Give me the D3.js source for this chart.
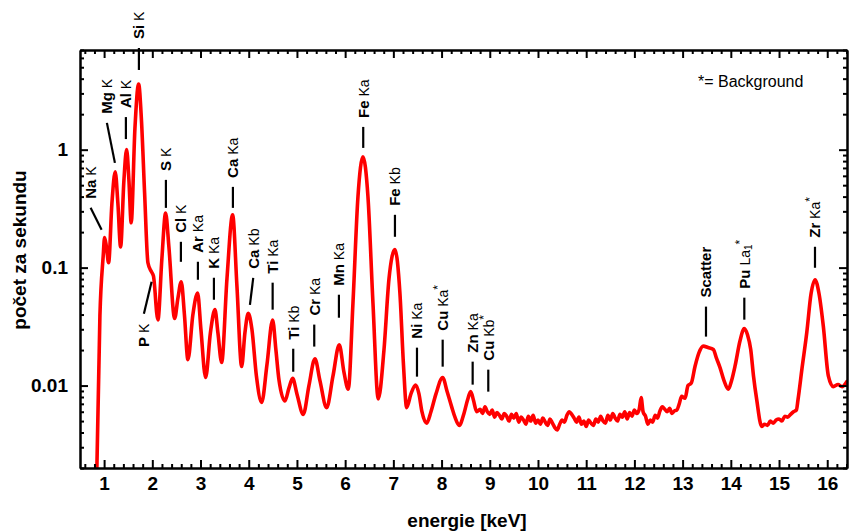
<!DOCTYPE html>
<html><head><meta charset="utf-8">
<script src="https://cdn.jsdelivr.net/npm/d3@7"></script>
<style>
body{margin:0;background:#fff}
svg{display:block}
text{font-family:"Liberation Sans",Arial,Helvetica,sans-serif}
</style>
</head><body>
<svg id="c" width="849" height="531"></svg>
<script>
// ---------- data: [energy keV, counts per second] ----------
const spectrum = [
 [0.844,0.0015],[0.913,0.039],[0.981,0.125],[1.010,0.18],[1.048,0.15],[1.093,0.11],[1.162,0.35],[1.230,0.65],[1.286,0.35],
 [1.342,0.15],[1.411,0.55],[1.467,1.0],[1.515,0.55],[1.562,0.24],[1.639,1.5],[1.716,3.6],[1.774,1.8],[1.840,0.43],[1.909,0.11],
 [1.977,0.093],[2.023,0.085],[2.116,0.036],[2.199,0.12],[2.276,0.29],[2.344,0.15],[2.463,0.037],[2.531,0.055],[2.600,0.076],
 [2.666,0.04],[2.739,0.0166],[2.842,0.04],[2.940,0.061],[3.008,0.03],[3.106,0.0117],[3.205,0.028],[3.299,0.044],[3.361,0.028],
 [3.438,0.0157],[3.548,0.08],[3.666,0.28],[3.755,0.07],[3.853,0.0145],[3.921,0.028],[3.990,0.041],[4.066,0.03],[4.160,0.012],
 [4.268,0.0072],[4.378,0.015],[4.496,0.036],[4.564,0.02],[4.627,0.0112],[4.751,0.0074],[4.834,0.0095],[4.911,0.0115],[5.000,0.0085],
 [5.131,0.0057],[5.249,0.01],[5.373,0.0169],[5.477,0.011],[5.616,0.0065],[5.747,0.012],[5.878,0.0222],[5.975,0.013],[6.064,0.0093],
 [6.162,0.05],[6.266,0.4],[6.369,0.87],[6.473,0.4],[6.577,0.05],[6.687,0.0077],[6.805,0.02],[6.909,0.08],[7.033,0.142],[7.137,0.06],
 [7.210,0.015],[7.276,0.0065],[7.365,0.0085],[7.463,0.0101],[7.531,0.0085],[7.593,0.006],[7.691,0.0048],[7.780,0.006],[7.884,0.0085],
 [8.023,0.0117],[8.112,0.009],[8.210,0.0066],[8.278,0.0054],[8.367,0.0046],[8.465,0.0058],[8.537,0.0075],[8.604,0.0089],[8.662,0.0075],
 [8.728,0.006],
 [8.80,0.0063],[8.85,0.0058],[8.90,0.0066],[8.95,0.0060],[9.00,0.0057],[9.05,0.0062],[9.10,0.0054],[9.15,0.0059],[9.20,0.0056],
 [9.25,0.0052],[9.30,0.0058],[9.35,0.0055],[9.40,0.0050],[9.45,0.0057],[9.50,0.0053],[9.55,0.0058],[9.60,0.0049],[9.65,0.0054],
 [9.70,0.0051],[9.75,0.0047],[9.80,0.0055],[9.85,0.0050],[9.90,0.0056],[9.95,0.0048],[10.00,0.0051],[10.05,0.0047],[10.10,0.0053],
 [10.15,0.0049],[10.20,0.0046],[10.25,0.0052],[10.30,0.0048],[10.35,0.0044],[10.40,0.0042],[10.45,0.0047],[10.50,0.0051],
 [10.55,0.0049],[10.60,0.0056],[10.65,0.0060],[10.70,0.0057],[10.75,0.0053],[10.80,0.0049],[10.85,0.0054],[10.90,0.0047],
 [10.95,0.0050],[11.00,0.0045],[11.05,0.0051],[11.10,0.0048],[11.15,0.0046],[11.20,0.0052],[11.25,0.0049],[11.30,0.0055],
 [11.35,0.0050],[11.40,0.0048],[11.45,0.0056],[11.50,0.0051],[11.55,0.0058],[11.60,0.0053],[11.65,0.0050],[11.70,0.0057],
 [11.75,0.0054],[11.80,0.0060],[11.85,0.0052],[11.90,0.0059],[11.95,0.0055],[12.00,0.0062],[12.05,0.0058],[12.10,0.0063],
 [12.14,0.0079],[12.18,0.0060],[12.23,0.0055],[12.28,0.0047],[12.33,0.0051],[12.38,0.0049],[12.43,0.0056],[12.48,0.0053],
 [12.53,0.0061],[12.58,0.0066],[12.63,0.0063],[12.68,0.0060],[12.73,0.0064],[12.78,0.0058],[12.83,0.0061],[12.88,0.0062],
 [12.93,0.0070],[12.98,0.0081],[13.05,0.0078],[13.112,0.010],[13.18,0.0105],[13.257,0.0145],[13.340,0.019],[13.429,0.0216],
 [13.527,0.021],[13.637,0.0202],[13.704,0.017],[13.776,0.0142],[13.859,0.011],[13.948,0.0093],[14.015,0.011],[14.087,0.0146],
 [14.191,0.024],[14.280,0.0305],[14.346,0.027],[14.413,0.0202],[14.471,0.012],[14.537,0.0076],[14.641,0.0045],[14.70,0.0047],
 [14.76,0.0046],[14.82,0.0050],[14.88,0.0048],[14.94,0.0051],[15.00,0.0052],[15.06,0.0050],[15.12,0.0055],[15.18,0.0054],
 [15.24,0.0057],[15.30,0.0060],[15.36,0.0062],[15.394,0.0076],[15.477,0.014],[15.575,0.028],[15.664,0.06],[15.747,0.079],
 [15.830,0.06],[15.919,0.0318],[16.023,0.0121],[16.126,0.0098],[16.224,0.0102],[16.307,0.0098],[16.405,0.0108]
];
const xTickValues = d3.range(1, 17);
const yTickValues = [0.01, 0.1, 1];
const yTickLabels = ["0.01", "0.1", "1"];

// peak annotations: element, line, background-flag, energy of marker, count at marker anchor
const annElement = ["Na","Mg","Al","Si","P","S","Cl","Ar","K","Ca","Ca","Ti","Ti","Cr","Mn","Fe","Fe","Ni","Cu","Zn","Cu","Scatter","Pu","Zr"];
const annLine    = ["K","K","K","K","K","K","K","Ka","Ka","Ka","Kb","Ka","Kb","Ka","Ka","Ka","Kb","Ka","Ka","Ka","Kb","","La1","Ka"];
const annStar    = [0,0,0,0,0,0,0,0,0,0,0,0,0,0,0,0,0,0,1,0,1,0,1,1];
const annEnergy  = [0.948,1.224,1.452,1.722,1.985,2.282,2.593,2.946,3.278,3.672,4.025,4.496,4.923,5.359,5.871,6.375,7.033,7.49,8.023,8.645,8.969,13.485,14.28,15.746];
const annCount   = [0.209,0.773,1.23,4.74,0.0759,0.321,0.112,0.0789,0.0534,0.321,0.0484,0.044,0.0131,0.0214,0.0376,1.035,0.1825,0.0119,0.01446,0.01018,0.00888,0.026,0.0362,0.0997];

// layout of annotation leaders (pixels): [dx, dy] of the free end relative to anchor
const annLeader = [[-11,-22],[-8,-40],[0,-22],[0,-22],[-7.7,32],[0,-28],[0,-20],[0,-18],[0,-22],[0,-21],[3.3,-27],[0,-27],[0,-23],[0,-22],[0,-23],[0,-21],[0,-22],[0,-29],[0,-27],[0,-23],[0,-22],[0,-30],[0,-22],[0,-21]];

// ---------- chart ----------
const svg = d3.select("#c");
const L = 80, R = 847, T = 50, B = 468;
const x = d3.scaleLinear().domain([0.5, 16.41]).range([L, R]);
const y = d3.scaleLog().domain([0.002, 7]).range([B, T]);

svg.append("clipPath").attr("id","clip").append("rect")
  .attr("x", L).attr("y", T).attr("width", R - L).attr("height", B - T);

const line = d3.line().x(d => x(d[0])).y(d => y(d[1])).curve(d3.curveMonotoneX);
svg.append("path").datum(spectrum).attr("d", line)
  .attr("clip-path","url(#clip)")
  .attr("fill","none").attr("stroke","#ff0000").attr("stroke-width",3.6)
  .attr("stroke-linejoin","round").attr("stroke-linecap","round");

// axes
const xMinor = d3.range(0.6, 16.41, 0.2).filter(v => Math.abs(v - Math.round(v)) > 0.05);
const yMinor = [];
[0.001,0.01,0.1,1].forEach(d => { for (let k = 2; k <= 9; k++) { const v = d*k; if (v >= 0.002 && v <= 7) yMinor.push(v); } });

function styleAxis(g) {
  g.selectAll("path.domain").attr("stroke","#000").attr("stroke-width",2);
  g.selectAll(".tick line").attr("stroke","#000").attr("stroke-width",2);
  g.selectAll("text").attr("font-size",19).attr("font-weight","bold").attr("fill","#000")
    .attr("font-family","'Liberation Sans',Arial,sans-serif");
}
// bottom
svg.append("g").attr("transform",`translate(0,${B})`)
  .call(d3.axisBottom(x).tickValues(xMinor).tickSize(-4).tickSizeOuter(0).tickFormat(""))
  .call(styleAxis);
svg.append("g").attr("transform",`translate(0,${B})`)
  .call(d3.axisBottom(x).tickValues(xTickValues).tickSize(-8).tickSizeOuter(0).tickPadding(9).tickFormat(d3.format("d")))
  .call(styleAxis);
// top
svg.append("g").attr("transform",`translate(0,${T})`)
  .call(d3.axisTop(x).tickValues(xMinor).tickSize(-4).tickSizeOuter(0).tickFormat(""))
  .call(styleAxis);
svg.append("g").attr("transform",`translate(0,${T})`)
  .call(d3.axisTop(x).tickValues(xTickValues).tickSize(-8).tickSizeOuter(0).tickFormat(""))
  .call(styleAxis);
// left
svg.append("g").attr("transform",`translate(${L},0)`)
  .call(d3.axisLeft(y).tickValues(yMinor).tickSize(-4).tickSizeOuter(0).tickFormat(""))
  .call(styleAxis);
svg.append("g").attr("transform",`translate(${L},0)`)
  .call(d3.axisLeft(y).tickValues(yTickValues).tickSize(-8).tickSizeOuter(0).tickPadding(12)
     .tickFormat((d,i) => yTickLabels[i]))
  .call(styleAxis);
// right
svg.append("g").attr("transform",`translate(${R},0)`)
  .call(d3.axisRight(y).tickValues(yMinor).tickSize(-4).tickSizeOuter(0).tickFormat(""))
  .call(styleAxis);
svg.append("g").attr("transform",`translate(${R},0)`)
  .call(d3.axisRight(y).tickValues(yTickValues).tickSize(-8).tickSizeOuter(0).tickFormat(""))
  .call(styleAxis);

// axis titles
svg.append("text").attr("x", 467).attr("y", 527).attr("text-anchor","middle")
  .attr("font-size",19).attr("font-weight","bold").text("energie [keV]");
svg.append("text").attr("transform","translate(26,250) rotate(-90)").attr("text-anchor","middle")
  .attr("font-size",19).attr("font-weight","bold").text("počet za sekundu");

// legend note
svg.append("text").attr("x", 698).attr("y", 87).attr("font-size",16).text("*= Background");

// annotations
const ann = svg.append("g");
annElement.forEach((el, i) => {
  const ax = x(annEnergy[i]), ay = y(annCount[i]);
  const [dx, dy] = annLeader[i];
  const ex = ax + dx, ey = ay + dy;
  ann.append("line").attr("x1", ax).attr("y1", ay).attr("x2", ex).attr("y2", ey)
    .attr("stroke","#000").attr("stroke-width",2.2);
  const below = dy > 0;
  const ty = below ? ey + 10 : ey - 9;
  const t = ann.append("text")
    .attr("transform", `translate(${ex},${ty}) rotate(-90)`)
    .attr("text-anchor", below ? "end" : "start")
    .attr("dy","0.36em").attr("font-size",15);
  t.append("tspan").attr("font-weight","bold").text(el);
  const ln = annLine[i];
  if (ln) {
    t.append("tspan").attr("font-size",14).text(" " + ln.slice(0,2));
    if (ln.length > 2) t.append("tspan").attr("font-size",10).attr("dy","2").text(ln.slice(2));
  }
  if (annStar[i]) t.append("tspan").attr("font-size",12).attr("dy", ln.length > 2 ? "-8" : "-6").text("*");
});
</script>
</body></html>
